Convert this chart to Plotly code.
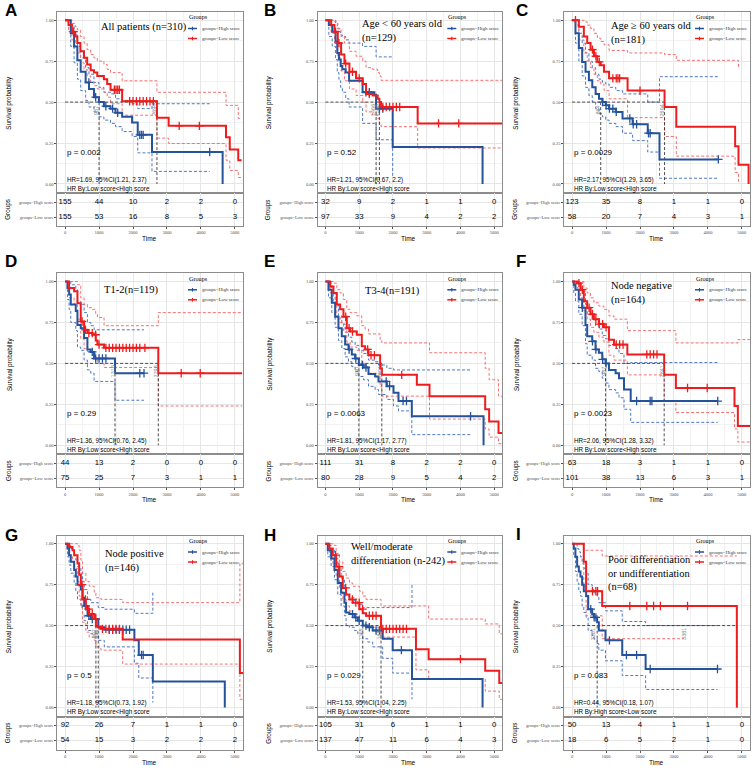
import plotly.graph_objects as go

W, H = 753, 768

# ------------------------------------------------------------------ data
LETTERS = ["A", "B", "C", "D", "E", "F", "G", "H", "I"]
TITLES = ["All patients (n=310)", "Age &lt; 60 years old<br>(n=129)", "Age ≥ 60 years old<br>(n=181)",
          "T1-2(n=119)", "T3-4(n=191)", "Node negative<br>(n=164)",
          "Node positive<br>(n=146)", "Well/moderate<br>differentiation (n-242)",
          "Poor differentiation<br>or undifferentiation<br>(n=68)"]
P_TEXT = ["p = 0.002", "p = 0.52", "p = 0.0029", "p = 0.29", "p = 0.0063", "p = 0.0023",
          "p = 0.5", "p = 0.029", "p = 0.083"]
HR_TEXT = ["HR=1.69, 95%CI(1.21, 2.37)", "HR=1.21, 95%CI(0.67, 2.2)", "HR=2.17, 95%CI(1.29, 3.65)",
           "HR=1.36, 95%CI(0.76, 2.45)", "HR=1.81, 95%CI(1.17, 2.77)", "HR=2.06, 95%CI(1.28, 3.32)",
           "HR=1.18, 95%CI(0.73, 1.92)", "HR=1.53, 95%CI(1.04, 2.25)", "HR=0.44, 95%CI(0.18, 1.07)"]
HR_BY = ["HR By:Low score&lt;High score"] * 8 + ["HR By:High score&lt;Low score"]
RISK_TIMES = [0, 1000, 2000, 3000, 4000, 5000]
RISK_HIGH = [[155, 44, 10, 2, 2, 0], [32, 9, 2, 1, 1, 0], [123, 35, 8, 1, 1, 0],
             [44, 13, 2, 0, 0, 0], [111, 31, 8, 2, 2, 0], [63, 18, 3, 1, 1, 0],
             [92, 26, 7, 1, 1, 0], [105, 31, 6, 1, 1, 0], [50, 13, 4, 1, 1, 0]]
RISK_LOW = [[155, 53, 16, 8, 5, 3], [97, 33, 9, 4, 2, 2], [58, 20, 7, 4, 3, 1],
            [75, 25, 7, 3, 1, 1], [80, 28, 9, 5, 4, 2], [101, 38, 13, 6, 3, 1],
            [54, 15, 3, 2, 2, 2], [137, 47, 11, 6, 4, 3], [18, 6, 5, 2, 1, 0]]
MEDIANS = [[1000, 2705], [1500, 1598], [842, 2723], [1470, 2745], [990, 1670],
           [986, 2712], [976, 907], [1105, 1647], [738, 4852]]
MEDIAN_LABELS = [["987", "2694"], ["1466", "1598"], ["864", "2694"], ["1316", "2798"], ["930", "1691"],
                 ["987", "2841"], ["976", "907"], ["1105", "1691"], ["3381", "3381"]]
MEDIAN_LABEL_T = [[930, 2635], [1430, 1528], [772, 2653], [1400, 2675], [920, 1600],
                  [916, 2642], [906, 837], [1035, 1577], [600, 3300]]
TITLE_POS = [(996, 0.96), (1035, 0.932), (1089, 0.92), (1078, 0.949), (1126, 0.945),
             (1085, 0.93), (1105, 0.893), (690, 0.935), (1004, 0.817)]

A_HIGH = dict(t=[0, 166, 264, 361, 459, 605, 703, 850, 996, 1143, 1338, 1484, 1680, 1973, 2139, 2559, 4260, 4640],
              s=[1, 0.92, 0.84, 0.755, 0.685, 0.62, 0.58, 0.53, 0.50, 0.475, 0.46, 0.435, 0.41, 0.375, 0.30, 0.195, 0.195, 0],
              lo=[1, 0.84, 0.74, 0.64, 0.57, 0.51, 0.47, 0.44, 0.41, 0.39, 0.37, 0.35, 0.32, 0.29, 0.19, 0.077, 0.077, None],
              up=[1, 0.97, 0.91, 0.84, 0.77, 0.71, 0.67, 0.62, 0.59, 0.56, 0.55, 0.52, 0.51, 0.49, 0.46, 0.49, 0.49, None],
              cens=[700, 900, 1200, 1400, 1550, 2200, 2250, 2300, 4260])
A_LOW = dict(t=[0, 100, 200, 300, 360, 450, 557, 650, 752, 850, 947, 1143, 1240, 1338, 1680, 2705, 3050, 4740, 4850, 5100, 5200],
             s=[1, 0.97, 0.93, 0.90, 0.86, 0.81, 0.77, 0.73, 0.695, 0.68, 0.66, 0.64, 0.61, 0.575, 0.505, 0.405, 0.355, 0.285, 0.21, 0.145, 0.145],
             lo=[1, 0.93, 0.88, 0.84, 0.80, 0.74, 0.70, 0.66, 0.62, 0.60, 0.58, 0.56, 0.53, 0.49, 0.42, 0.28, 0.247, 0.145, 0.083, 0.04, 0.04],
             up=[1, 1, 0.98, 0.96, 0.94, 0.90, 0.86, 0.82, 0.79, 0.77, 0.75, 0.73, 0.70, 0.68, 0.63, 0.56, 0.56, 0.48, 0.48, 0.40, 0.40],
             cens=[250, 1450, 1500, 1550, 1600, 1900, 2000, 2100, 2200, 2300, 2400, 2500, 2600, 3360, 3955])

B_HIGH = dict(t=[0, 100, 200, 300, 350, 400, 450, 500, 600, 700, 1100, 1450, 1500, 1992, 4655],
              s=[1, 0.97, 0.93, 0.87, 0.80, 0.76, 0.72, 0.70, 0.68, 0.63, 0.56, 0.545, 0.46, 0.226, 0],
              lo=[1, 0.90, 0.84, 0.76, 0.68, 0.63, 0.59, 0.56, 0.52, 0.47, 0.37, 0.37, 0.27, 0.05, None],
              up=[1, 1, 1, 0.98, 0.95, 0.93, 0.91, 0.90, 0.88, 0.86, 0.84, 0.84, 0.776, 0.776, None],
              cens=[1200, 1300, 1600, 1700])
B_LOW = dict(t=[0, 168, 266, 365, 463, 562, 710, 907, 1105, 1203, 1400, 1548, 1598, 1647, 2732, 5230],
             s=[1, 0.97, 0.93, 0.86, 0.79, 0.735, 0.685, 0.645, 0.61, 0.55, 0.54, 0.52, 0.50, 0.47, 0.37, 0.37],
             lo=[1, 0.92, 0.86, 0.77, 0.69, 0.63, 0.58, 0.54, 0.50, 0.44, 0.42, 0.40, 0.37, 0.35, 0.22, 0.22],
             up=[1, 1, 0.99, 0.95, 0.90, 0.86, 0.81, 0.78, 0.75, 0.71, 0.70, 0.68, 0.66, 0.633, 0.633, 0.633],
             cens=[300, 400, 600, 800, 1000, 1300, 1700, 1800, 1900, 2000, 2100, 2200, 3350, 3950])

C_HIGH = dict(t=[0, 99, 198, 297, 396, 495, 594, 693, 792, 891, 990, 1089, 1287, 1485, 1782, 2228, 2574, 4307],
              s=[1, 0.92, 0.83, 0.745, 0.685, 0.633, 0.59, 0.55, 0.52, 0.50, 0.48, 0.46, 0.44, 0.40, 0.365, 0.31, 0.15, 0.15],
              lo=[1, 0.86, 0.75, 0.66, 0.59, 0.54, 0.50, 0.46, 0.43, 0.41, 0.39, 0.37, 0.35, 0.31, 0.265, 0.195, 0.035, 0.035],
              up=[1, 0.97, 0.92, 0.86, 0.80, 0.75, 0.71, 0.67, 0.64, 0.62, 0.61, 0.59, 0.57, 0.55, 0.55, 0.50, 0.655, 0.655],
              cens=[900, 1000, 1100, 1200, 1300, 1700, 1800, 1900, 2250, 2300, 4307])
C_LOW = dict(t=[0, 198, 346, 445, 545, 644, 743, 842, 941, 1089, 1634, 2723, 3069, 4802, 4901, 5198],
             s=[1, 0.96, 0.90, 0.86, 0.82, 0.78, 0.745, 0.725, 0.685, 0.645, 0.57, 0.47, 0.35, 0.23, 0.118, 0],
             lo=[1, 0.88, 0.80, 0.75, 0.71, 0.67, 0.63, 0.61, 0.57, 0.52, 0.405, 0.29, 0.17, 0.07, 0.01, None],
             up=[1, 1, 0.99, 0.97, 0.95, 0.92, 0.89, 0.87, 0.85, 0.815, 0.80, 0.79, 0.755, 0.755, 0.705, None],
             cens=[100, 600, 700, 800, 1200, 1300, 1350, 1400, 2000])

D_HIGH = dict(t=[0, 69, 118, 167, 314, 363, 461, 559, 657, 755, 853, 1470, 2324],
              s=[1, 0.96, 0.92, 0.86, 0.82, 0.735, 0.715, 0.655, 0.585, 0.57, 0.53, 0.44, 0.44],
              lo=[1, 0.89, 0.83, 0.75, 0.70, 0.60, 0.58, 0.52, 0.46, 0.44, 0.39, 0.275, 0.275],
              up=[1, 1, 1, 0.98, 0.95, 0.88, 0.86, 0.81, 0.75, 0.73, 0.705, 0.705, 0.705],
              cens=[800, 900, 1000, 1100, 1200, 2200, 2324])
D_LOW = dict(t=[0, 118, 265, 363, 461, 559, 657, 804, 902, 951, 1147, 2745, 5215],
             s=[1, 0.96, 0.94, 0.867, 0.756, 0.705, 0.685, 0.675, 0.64, 0.615, 0.595, 0.44, 0.44],
             lo=[1, 0.90, 0.86, 0.77, 0.65, 0.59, 0.57, 0.56, 0.52, 0.50, 0.475, 0.24, 0.24],
             up=[1, 1, 1, 0.98, 0.90, 0.86, 0.84, 0.83, 0.80, 0.78, 0.73, 0.81, 0.81],
             cens=[500, 600, 700, 800, 900, 1000, 1200, 1300, 1400, 1500, 1600, 1700, 1800, 1900, 2000, 2100, 2200, 2350, 3420, 3980])

E_HIGH = dict(t=[0, 89, 188, 287, 385, 484, 583, 682, 781, 879, 990, 1127, 1275, 1472, 1571, 1818, 2016, 2164, 2559, 4300, 4684],
              s=[1, 0.95, 0.87, 0.785, 0.715, 0.665, 0.615, 0.585, 0.555, 0.53, 0.49, 0.475, 0.435, 0.42, 0.39, 0.36, 0.32, 0.27, 0.177, 0.177, 0],
              lo=[1, 0.90, 0.81, 0.72, 0.64, 0.59, 0.54, 0.51, 0.48, 0.45, 0.42, 0.40, 0.36, 0.34, 0.31, 0.28, 0.24, 0.21, 0.065, 0.065, None],
              up=[1, 0.99, 0.93, 0.86, 0.79, 0.74, 0.69, 0.66, 0.63, 0.61, 0.58, 0.56, 0.52, 0.51, 0.49, 0.47, 0.46, 0.46, 0.46, 0.46, None],
              cens=[700, 900, 1100, 1200, 1800, 1900, 2300, 2400, 4300])
E_LOW = dict(t=[0, 138, 237, 336, 435, 534, 632, 731, 929, 1077, 1176, 1275, 1620, 1670, 2708, 3083, 4733, 4850, 5128, 5240],
             s=[1, 0.97, 0.93, 0.86, 0.83, 0.785, 0.715, 0.695, 0.675, 0.605, 0.585, 0.55, 0.47, 0.43, 0.37, 0.30, 0.22, 0.146, 0.075, 0.075],
             lo=[1, 0.93, 0.88, 0.79, 0.75, 0.70, 0.63, 0.60, 0.58, 0.50, 0.48, 0.44, 0.36, 0.30, 0.30, 0.16, 0.10, 0.05, 0.01, 0.01],
             up=[1, 1, 0.99, 0.95, 0.93, 0.89, 0.83, 0.81, 0.79, 0.73, 0.71, 0.68, 0.64, 0.625, 0.625, 0.565, 0.47, 0.40, 0.30, 0.30],
             cens=[600, 700, 800, 1250, 1350, 1450, 2260])

F_HIGH = dict(t=[0, 49, 99, 197, 296, 394, 444, 592, 690, 789, 888, 986, 1085, 1282, 1381, 1529, 1726, 4290],
              s=[1, 0.98, 0.95, 0.89, 0.84, 0.735, 0.665, 0.635, 0.585, 0.565, 0.525, 0.50, 0.46, 0.44, 0.41, 0.34, 0.27, 0.27],
              lo=[1, 0.93, 0.88, 0.80, 0.73, 0.62, 0.55, 0.52, 0.47, 0.45, 0.41, 0.38, 0.34, 0.32, 0.29, 0.22, 0.14, 0.14],
              up=[1, 1, 1, 0.98, 0.94, 0.86, 0.80, 0.77, 0.73, 0.71, 0.67, 0.65, 0.61, 0.59, 0.56, 0.50, 0.505, 0.505],
              cens=[300, 600, 700, 900, 1000, 1900, 2300, 2350, 4290])
F_LOW = dict(t=[0, 148, 247, 345, 444, 543, 641, 789, 937, 1085, 1233, 1627, 2712, 3057, 4783, 4882, 5240],
             s=[1, 0.99, 0.95, 0.88, 0.84, 0.80, 0.77, 0.74, 0.72, 0.645, 0.615, 0.555, 0.43, 0.35, 0.24, 0.118, 0.118],
             lo=[1, 0.96, 0.90, 0.82, 0.77, 0.72, 0.69, 0.66, 0.63, 0.55, 0.52, 0.43, 0.27, 0.20, 0.10, 0.02, 0.02],
             up=[1, 1, 1, 0.96, 0.93, 0.90, 0.87, 0.85, 0.83, 0.79, 0.77, 0.70, 0.70, 0.625, 0.625, 0.645, 0.645],
             cens=[200, 300, 500, 600, 700, 800, 900, 1000, 1300, 1400, 1500, 2200, 2300, 2400, 2500, 3400, 3980])

G_HIGH = dict(t=[0, 69, 118, 168, 266, 316, 365, 464, 513, 562, 661, 759, 976, 1154, 2041, 2170, 2584, 4704],
              s=[1, 0.97, 0.93, 0.89, 0.84, 0.80, 0.75, 0.72, 0.67, 0.62, 0.56, 0.54, 0.49, 0.475, 0.41, 0.32, 0.158, 0],
              lo=[1, 0.92, 0.87, 0.82, 0.76, 0.71, 0.66, 0.63, 0.57, 0.53, 0.47, 0.45, 0.41, 0.37, 0.27, 0.18, 0.03, None],
              up=[1, 1, 0.99, 0.97, 0.93, 0.90, 0.86, 0.82, 0.77, 0.72, 0.66, 0.64, 0.61, 0.60, 0.575, 0.575, 0.71, None],
              cens=[600, 700, 800, 900, 1300, 1400, 1500, 1600, 1700, 1800, 1900, 2250, 2300])
G_LOW = dict(t=[0, 118, 217, 266, 365, 414, 464, 513, 612, 710, 858, 907, 1055, 1696, 5148, 5240],
             s=[1, 0.98, 0.96, 0.93, 0.88, 0.81, 0.75, 0.66, 0.60, 0.57, 0.54, 0.495, 0.48, 0.415, 0.21, 0.21],
             lo=[1, 0.93, 0.89, 0.85, 0.77, 0.68, 0.61, 0.52, 0.46, 0.43, 0.41, 0.37, 0.35, 0.265, 0.05, 0.05],
             up=[1, 1, 1, 1, 0.99, 0.96, 0.90, 0.82, 0.77, 0.74, 0.70, 0.67, 0.66, 0.64, 0.88, 0.88],
             cens=[500, 600, 700, 800, 900, 1100, 1200, 1300, 1400, 1500, 1600])

H_HIGH = dict(t=[0, 69, 168, 266, 365, 464, 562, 611, 710, 858, 957, 1105, 1253, 1400, 1696, 1992, 2564, 4655],
              s=[1, 0.96, 0.91, 0.84, 0.76, 0.70, 0.64, 0.58, 0.57, 0.55, 0.53, 0.50, 0.49, 0.47, 0.42, 0.35, 0.174, 0],
              lo=[1, 0.92, 0.86, 0.78, 0.69, 0.62, 0.56, 0.50, 0.49, 0.47, 0.45, 0.42, 0.40, 0.37, 0.30, 0.21, 0.05, None],
              up=[1, 0.99, 0.96, 0.91, 0.85, 0.79, 0.74, 0.68, 0.67, 0.65, 0.63, 0.61, 0.61, 0.61, 0.61, 0.61, 0.75, None],
              cens=[800, 900, 1000, 1200, 1300, 1500, 1600, 2250])
H_LOW = dict(t=[0, 118, 217, 316, 414, 513, 611, 710, 808, 1006, 1105, 1203, 1647, 2682, 3057, 4734, 5150, 5240],
             s=[1, 0.97, 0.93, 0.86, 0.80, 0.73, 0.69, 0.66, 0.64, 0.60, 0.575, 0.56, 0.48, 0.355, 0.295, 0.225, 0.15, 0.15],
             lo=[1, 0.93, 0.88, 0.80, 0.73, 0.66, 0.62, 0.59, 0.57, 0.53, 0.51, 0.49, 0.43, 0.23, 0.175, 0.10, 0.05, 0.05],
             up=[1, 1, 0.99, 0.94, 0.89, 0.83, 0.79, 0.76, 0.74, 0.71, 0.68, 0.66, 0.62, 0.62, 0.54, 0.51, 0.45, 0.45],
             cens=[300, 400, 600, 800, 900, 1000, 1100, 1300, 1400, 1500, 1700, 1800, 1900, 2000, 2100, 2200, 2300, 2400, 4000])

I_HIGH = dict(t=[0, 49, 98, 148, 197, 246, 295, 344, 413, 472, 591, 640, 738, 787, 984, 1476, 2165, 4282],
              s=[1, 0.97, 0.92, 0.86, 0.83, 0.80, 0.75, 0.71, 0.68, 0.60, 0.57, 0.55, 0.52, 0.47, 0.41, 0.32, 0.235, 0.235],
              lo=[1, 0.92, 0.83, 0.76, 0.71, 0.68, 0.62, 0.58, 0.55, 0.47, 0.44, 0.42, 0.39, 0.35, 0.285, 0.195, 0.11, 0.11],
              up=[1, 1, 1, 0.97, 0.95, 0.92, 0.88, 0.85, 0.82, 0.75, 0.72, 0.70, 0.68, 0.64, 0.59, 0.525, 0.50, 0.50],
              cens=[550, 650, 700, 1100, 1600, 1900, 2300, 4282])
I_LOW = dict(t=[0, 344, 413, 886, 3300, 4852],
             s=[1, 0.89, 0.71, 0.62, 0.62, 0],
             lo=[1, 0.74, 0.56, 0.42, 0.42, None],
             up=[1, 0.96, 0.96, 0.925, 0.925, 0.925],
             cens=[600, 700, 750, 1700, 2200, 2400, 2600, 3400])

HIGHS = [A_HIGH, B_HIGH, C_HIGH, D_HIGH, E_HIGH, F_HIGH, G_HIGH, H_HIGH, I_HIGH]
LOWS = [A_LOW, B_LOW, C_LOW, D_LOW, E_LOW, F_LOW, G_LOW, H_LOW, I_LOW]

# ------------------------------------------------------------------ layout geometry (pixels)
COL_LEFT = [57.3, 317.7, 564.3]
COL_RIGHT = [243.0, 502.3, 750.0]
ROW_TOP = [12.0, 273.3, 535.5]
MAIN_H, TAB_H = 181.0, 33.0
LETTER_POS = [(3, 10), (262, 10), (514, 10.5), (3, 261), (262, 261.5), (514, 261.5),
              (3, 535), (262, 535), (514, 534)]
XR = [-230, 5240]
YR = [-0.055, 1.05]

BLUE, RED = "#24529b", "#ee1c1c"
BLUE_CI, RED_CI = "#4f78c4", "#f47272"
SANS, SERIF = "Liberation Sans", "Liberation Serif"
GRID, GRID_MINOR, BORDER = "#e6e6e6", "#f2f2f2", "#8c8c8c"


def px(x):
    return x / W


def py(y):
    return 1 - y / H


def step_at(t, s, x):
    v = s[0]
    for ti, si in zip(t, s):
        if ti <= x:
            v = si
        else:
            break
    return v


fig = go.Figure()
layout = dict(template="none", width=W, height=H, autosize=False, margin=dict(l=0, r=0, t=0, b=0, pad=0),
              paper_bgcolor="white", plot_bgcolor="white", showlegend=False)
annotations, shapes = [], []


def axname(kind, i):
    return kind if i == 1 else f"{kind}{i}"


def ref(kind, i):
    return kind if i == 1 else f"{kind}{i}"


for k in range(9):
    r, c = divmod(k, 3)
    im, it = 2 * k + 1, 2 * k + 2
    xm, ym, xt, yt = ref("x", im), ref("y", im), ref("x", it), ref("y", it)
    left, right, top = COL_LEFT[c], COL_RIGHT[c], ROW_TOP[r]
    mbot = top + MAIN_H
    tbot = mbot + TAB_H

    common = dict(showline=True, mirror=True, linecolor=BORDER, linewidth=1, zeroline=False, automargin=False)
    layout[axname("xaxis", im)] = dict(domain=[px(left), px(right)], anchor=ym, range=XR,
                                      tickvals=RISK_TIMES, showticklabels=False, ticks="",
                                      showgrid=True, gridcolor=GRID, gridwidth=0.8,
                                      minor=dict(tickvals=[500, 1500, 2500, 3500, 4500], showgrid=True,
                                                 gridcolor=GRID_MINOR, gridwidth=0.6),
                                      **common)
    layout[axname("yaxis", im)] = dict(domain=[py(mbot), py(top)], anchor=xm, range=YR,
                                      tickvals=[0, 0.25, 0.5, 0.75, 1],
                                      ticktext=["0.00", "0.25", "0.50", "0.75", "1.00"],
                                      tickfont=dict(family=SERIF, size=4.5, color="#4d4d4d"),
                                      ticks="outside", ticklen=2, tickcolor="#555", tickwidth=0.6,
                                      showgrid=True, gridcolor=GRID, gridwidth=0.8,
                                      minor=dict(tickvals=[0.125, 0.375, 0.625, 0.875], showgrid=True,
                                                 gridcolor=GRID_MINOR, gridwidth=0.6),
                                      **common)
    layout[axname("xaxis", it)] = dict(domain=[px(left), px(right)], anchor=yt, range=XR,
                                      tickvals=RISK_TIMES, ticktext=[str(v) for v in RISK_TIMES],
                                      tickfont=dict(family=SERIF, size=4.5, color="#4d4d4d"),
                                      ticks="outside", ticklen=2, tickcolor="#555", tickwidth=0.6,
                                      showgrid=True, gridcolor=GRID, gridwidth=0.6, **common)
    layout[axname("yaxis", it)] = dict(domain=[py(tbot), py(mbot)], anchor=xt, range=[0.4, 2.6],
                                      tickvals=[2, 1], ticktext=["groups=High score", "groups=Low score"],
                                      tickfont=dict(family=SERIF, size=4.5, color="#4d4d4d"),
                                      ticks="outside", ticklen=2, tickcolor="#555", tickwidth=0.6,
                                      showgrid=True, gridcolor=GRID, gridwidth=0.6, **common)

    hi, lo_ = HIGHS[k], LOWS[k]
    # confidence bands
    for d, col in ((hi, BLUE_CI), (lo_, RED_CI)):
        for key in ("lo", "up"):
            fig.add_trace(go.Scatter(x=d["t"], y=d[key], mode="lines", line_shape="hv",
                                     line=dict(color=col, width=1.0, dash="3px,2px"),
                                     connectgaps=False, xaxis=xm, yaxis=ym, hoverinfo="skip"))
    # median lines
    meds = MEDIANS[k]
    fig.add_trace(go.Scatter(x=[0, max(meds)], y=[0.5, 0.5], mode="lines",
                             line=dict(color="#222", width=0.8, dash="3px,2px"), xaxis=xm, yaxis=ym))
    for m in meds:
        fig.add_trace(go.Scatter(x=[m, m], y=[0.5, 0], mode="lines",
                                 line=dict(color="#222", width=0.8, dash="3px,2px"), xaxis=xm, yaxis=ym))
    for lt, lab in zip(MEDIAN_LABEL_T[k], MEDIAN_LABELS[k]):
        annotations.append(dict(x=lt, y=0.45, xref=xm, yref=ym, text=lab, showarrow=False,
                                xanchor="center", yanchor="middle",
                                textangle=-90, font=dict(family=SANS, size=5.5, color="#888")))
    # survival curves
    for d, col in ((hi, BLUE), (lo_, RED)):
        fig.add_trace(go.Scatter(x=d["t"], y=d["s"], mode="lines", line_shape="hv",
                                 line=dict(color=col, width=2.0), xaxis=xm, yaxis=ym))
        cy = [step_at(d["t"], d["s"], c_) for c_ in d["cens"]]
        fig.add_trace(go.Scatter(x=d["cens"], y=cy, mode="markers",
                                 marker=dict(symbol="cross-thin", size=6, line=dict(color=col, width=1.3)),
                                 xaxis=xm, yaxis=ym))
    # risk table numbers
    fig.add_trace(go.Scatter(x=RISK_TIMES, y=[2] * 6, mode="text", text=[str(v) for v in RISK_HIGH[k]],
                             textfont=dict(family=SANS, size=7.8, color="black"), xaxis=xt, yaxis=yt))
    fig.add_trace(go.Scatter(x=RISK_TIMES, y=[1] * 6, mode="text", text=[str(v) for v in RISK_LOW[k]],
                             textfont=dict(family=SANS, size=7.8, color="black"), xaxis=xt, yaxis=yt))

    # texts in the main panel
    tx, ty = TITLE_POS[k]
    annotations.append(dict(x=tx, y=ty, xref=xm, yref=ym, text=TITLES[k], showarrow=False,
                            xanchor="left", yanchor="middle", align="left",
                            font=dict(family=SERIF, size=10.5, color="black")))
    annotations.append(dict(x=0, y=0.195, xref=xm, yref=ym, text=P_TEXT[k], showarrow=False,
                            xanchor="left", yanchor="middle", font=dict(family=SANS, size=8, color="black")))
    annotations.append(dict(x=0, y=0.025, xref=xm, yref=ym, text=HR_TEXT[k], showarrow=False,
                            xanchor="left", yanchor="middle", font=dict(family=SANS, size=6.3, color="black")))
    annotations.append(dict(x=0, y=-0.028, xref=xm, yref=ym, text=HR_BY[k], showarrow=False,
                            xanchor="left", yanchor="middle", font=dict(family=SANS, size=6.3, color="black")))
    # axis titles
    annotations.append(dict(x=px(left - 48), y=py(top + MAIN_H / 2), xref="paper", yref="paper",
                            text="Survival probability", showarrow=False, textangle=-90,
                            xanchor="center", yanchor="middle",
                            font=dict(family=SANS, size=6.3, color="black")))
    annotations.append(dict(x=px(left - 49), y=py(mbot + TAB_H / 2), xref="paper", yref="paper",
                            text="Groups", showarrow=False, textangle=-90,
                            xanchor="center", yanchor="middle",
                            font=dict(family=SANS, size=6.3, color="black")))
    annotations.append(dict(x=px((left + right) / 2 - 1), y=py(tbot + 12.5), xref="paper", yref="paper",
                            text="Time", showarrow=False, xanchor="center", yanchor="middle",
                            font=dict(family=SANS, size=6.5, color="black")))
    # panel letter
    lx, ly = LETTER_POS[k]
    annotations.append(dict(x=px(lx), y=py(ly), xref="paper", yref="paper", text="<b>%s</b>" % LETTERS[k],
                            showarrow=False, xanchor="left", yanchor="middle",
                            font=dict(family=SANS, size=17, color="black")))
    # legend
    lgx = right - 56
    annotations.append(dict(x=px(lgx), y=py(top + 5), xref="paper", yref="paper", text="Groups",
                            showarrow=False, xanchor="left", yanchor="middle",
                            font=dict(family=SERIF, size=6.2, color="black")))
    for j, (lab, col) in enumerate((("groups=High score", BLUE), ("groups=Low score", RED))):
        yy = top + 16.5 + 10 * j
        shapes.append(dict(type="line", xref="paper", yref="paper", x0=px(lgx + 1), x1=px(lgx + 10),
                           y0=py(yy), y1=py(yy), line=dict(color=col, width=1.5)))
        shapes.append(dict(type="line", xref="paper", yref="paper", x0=px(lgx + 5.5), x1=px(lgx + 5.5),
                           y0=py(yy - 1.8), y1=py(yy + 1.8), line=dict(color=col, width=1.1)))
        annotations.append(dict(x=px(lgx + 13), y=py(yy), xref="paper", yref="paper", text=lab,
                                showarrow=False, xanchor="left", yanchor="middle",
                                font=dict(family=SERIF, size=5, color="#333")))

layout["annotations"] = annotations
layout["shapes"] = shapes
fig.update_layout(**layout)
fig.write_html("out.html", config={"displayModeBar": False},
               post_script="document.body.style.margin='0px';document.body.style.overflow='hidden';")
